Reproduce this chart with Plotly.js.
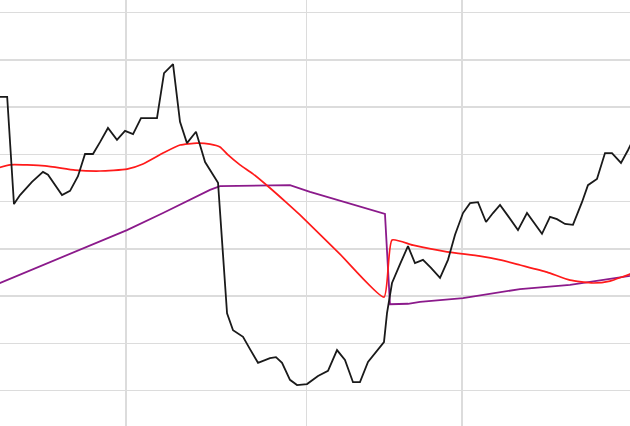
<!DOCTYPE html>
<html>
<head>
<meta charset="utf-8">
<script src="https://cdn.plot.ly/plotly-3.0.1.min.js"></script>
<style>html,body{margin:0;padding:0;background:#fff;}#chart{width:630px;height:426px;}</style>
</head>
<body>
<div id="chart"></div>
<script>
// Price series (black), x in trading days
const priceX = [-1.0,0.0,0.83,1.57,3.03,4.37,4.98,5.84,6.69,7.67,8.64,9.50,10.47,11.33,12.30,13.40,14.38,15.36,16.33,18.28,19.14,20.24,21.09,21.94,22.55,23.04,23.53,24.15,25.73,26.83,27.56,28.78,29.63,30.61,32.07,32.80,33.54,34.51,35.37,36.59,37.93,39.15,40.25,41.22,42.20,43.05,44.03,45.01,45.98,46.35,46.96,47.94,48.91,49.76,50.74,51.72,52.82,53.79,54.65,55.62,56.48,57.45,58.43,59.28,60.14,61.11,62.33,63.43,65.26,66.24,67.09,68.07,69.04,70.14,70.87,71.97,72.95,73.80,74.90,75.75,76.49];
const priceY = [62.2,62.2,39.5,41.4,44.2,46.3,45.7,43.5,41.4,42.3,45.4,50.1,50.1,52.6,55.6,53.1,55.0,54.3,57.7,57.7,67.2,69.1,56.9,52.4,53.7,54.8,52.0,48.4,44.0,16.4,12.8,11.4,8.8,5.9,6.9,7.1,5.9,2.3,1.2,1.4,3.1,4.2,8.6,6.5,1.8,1.8,6.1,8.2,10.3,16.4,22.8,26.8,30.6,27.0,27.7,26.0,23.9,27.7,33.0,37.6,39.7,39.9,35.7,37.6,39.3,37.0,34.0,37.6,33.2,36.8,36.3,35.3,35.1,39.9,43.5,44.8,50.3,50.3,48.2,50.9,53.5];

// Smoothed series (red)
const smoothX = [-1.0,0.35,4.62,8.28,11.33,14.62,16.57,19.02,21.09,23.16,24.75,25.97,26.95,28.41,29.99,32.07,34.15,35.73,40.61,45.98,46.96,49.52,53.67,57.70,60.14,62.58,65.87,68.68,71.49,73.56,76.0,76.3];
const smoothY = [47.2,47.8,47.6,46.7,46.5,46.9,48.0,50.3,52.0,52.4,52.2,51.6,49.9,47.8,45.9,42.9,39.7,37.2,28.9,19.8,31.9,30.8,29.4,28.5,27.7,26.6,25.1,23.4,22.8,23.2,24.7,25.0];

// Trend series (purple)
const trendX = [-1.0,8.89,14.62,19.02,24.75,25.97,34.51,36.95,46.10,46.71,48.91,50.38,55.62,62.58,68.68,76.0,76.3];
const trendY = [22.7,29.8,34.0,37.6,42.5,43.3,43.5,42.1,37.4,18.3,18.4,18.8,19.6,21.5,22.4,24.3,24.4];

// Grid positions (month boundaries) and y ticks
const xGrid = [14.5, 36.5, 55.5];
const yTick0 = 0, yStep = 10;

const traces = [
  {x: trendX, y: trendY, mode: 'lines', line: {color: '#8b1a8b', width: 1.8}, hoverinfo: 'skip'},
  {x: smoothX, y: smoothY, mode: 'lines', line: {color: '#ff1a1a', width: 1.7, shape: 'spline', smoothing: 0.5}, hoverinfo: 'skip'},
  {x: priceX, y: priceY, mode: 'lines', line: {color: '#1a1a1a', width: 1.8}, hoverinfo: 'skip'}
];

const layout = {
  width: 630, height: 426,
  margin: {l: 0, r: 0, t: 0, b: 0, pad: 0},
  paper_bgcolor: '#ffffff', plot_bgcolor: '#ffffff',
  showlegend: false,
  xaxis: {range: [-0.875, 76.0], tickmode: 'array', tickvals: xGrid, showticklabels: false,
          showgrid: true, gridcolor: '#dcdcdc', gridwidth: 1.5, zeroline: false, showline: false, ticks: ''},
  yaxis: {range: [-7.47, 82.69], tick0: yTick0, dtick: yStep, showticklabels: false,
          showgrid: true, gridcolor: '#dcdcdc', gridwidth: 1.5, zeroline: false, showline: false, ticks: ''}
};

Plotly.newPlot('chart', traces, layout, {displayModeBar: false, staticPlot: true});
</script>
</body>
</html>
